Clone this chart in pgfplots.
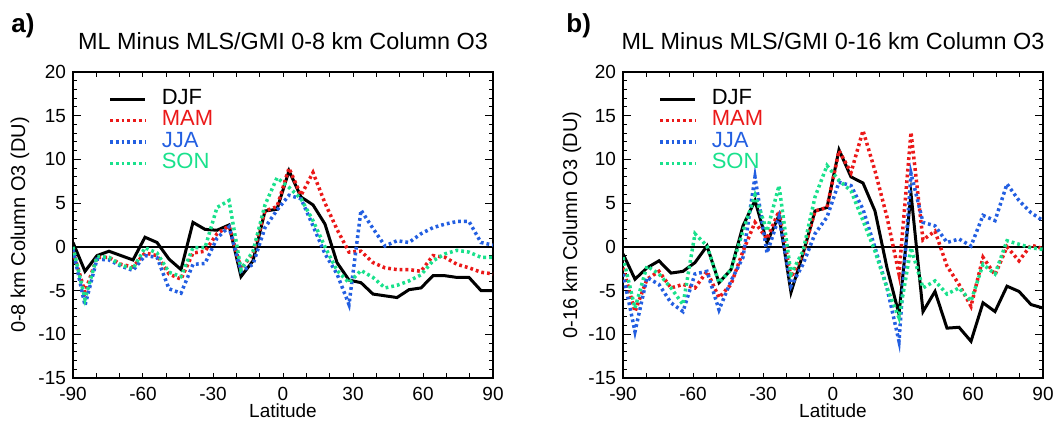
\documentclass[border=0pt]{standalone}
\usepackage{fontspec}
\setmainfont{Liberation Sans}
\usepackage{pgfplots}
\usepackage{pgfplotstable}
\pgfplotsset{compat=1.18}
\definecolor{mamred}{RGB}{235,25,25}
\definecolor{jjablue}{RGB}{35,95,225}
\definecolor{songreen}{RGB}{25,225,140}

% latitude, DJF, MAM, JJA, SON
\pgfplotstableread{
lat djf mam jja son
-90 0.5 -0.5 -0.3 0.0
-84.857 -2.8 -5.2 -6.7 -6.0
-79.714 -1.0 -1.2 -1.4 -1.1
-74.571 -0.5 -1.2 -1.5 -1.2
-69.429 -1.0 -2.0 -2.2 -2.1
-64.286 -1.5 -2.3 -2.7 -2.5
-59.143 1.1 -0.7 -1.0 -0.1
-54 0.5 -1.0 -1.2 -0.7
-48.857 -1.4 -3.1 -4.8 -2.9
-43.714 -2.6 -3.7 -5.3 -3.4
-38.571 2.8 -0.7 -2.0 -0.1
-33.429 2.0 -0.5 -1.9 -0.1
-28.286 1.9 1.5 1.0 4.5
-23.143 2.5 2.4 2.3 5.3
-18 -3.4 -2.5 -2.8 -2.6
-12.857 -1.6 -0.8 -2.0 -0.5
-7.714 4.1 4.1 2.2 4.8
-2.571 4.3 4.6 4.2 7.9
2.571 8.7 9.0 5.9 6.8
7.714 5.7 5.9 5.5 5.5
12.857 4.8 8.5 2.4 3.0
18 2.6 5.0 -0.8 0.0
23.143 -1.8 2.0 -3.1 -2.7
28.286 -3.8 -0.6 -6.6 -4.1
33.429 -4.1 -0.5 4.2 -2.7
38.571 -5.4 -1.8 2.1 -3.5
43.714 -5.6 -2.4 0.1 -4.7
48.857 -5.8 -2.6 0.7 -4.4
54 -4.9 -2.6 0.5 -3.9
59.143 -4.7 -2.8 1.5 -3.2
64.286 -3.3 -1.0 2.2 -1.6
69.429 -3.3 -1.2 2.6 -0.8
74.571 -3.5 -2.0 2.9 -0.4
79.714 -3.5 -2.4 2.9 -0.6
84.857 -5.0 -2.9 0.5 -1.2
90 -5.0 -3.1 0.2 -1.2
}\lowtab

\pgfplotstableread{
lat djf mam jja son
-90 -0.8 -2.4 -3.1 -1.2
-84.857 -3.7 -7.4 -9.7 -7.0
-79.714 -2.4 -3.7 -3.5 -2.2
-74.571 -1.6 -2.8 -4.3 -3.1
-69.429 -3.0 -4.7 -6.4 -4.7
-64.286 -2.8 -4.3 -7.4 -6.6
-59.143 -1.8 -4.7 -3.1 1.5
-54 0.1 -2.8 -2.8 0.1
-48.857 -4.1 -5.8 -7.2 -4.1
-43.714 -2.6 -4.3 -3.9 -2.6
-38.571 2.4 -0.5 -1.2 1.8
-33.429 5.3 2.8 8.0 5.9
-28.286 0.5 0.9 -0.7 1.8
-23.143 3.6 4.1 3.4 7.0
-18 -5.2 -3.5 -4.5 -3.1
-12.857 -0.8 -0.8 -2.0 -0.5
-7.714 4.1 4.1 1.5 5.7
-2.571 4.5 4.5 3.4 9.3
2.571 11.1 11.0 7.4 7.6
7.714 8.0 8.5 7.0 6.4
12.857 7.3 13.3 4.3 3.0
18 4.1 8.7 -0.1 -0.5
23.143 -2.4 3.4 -4.7 -4.7
28.286 -7.7 -3.1 -10.8 -8.1
33.429 6.1 13.1 8.4 -0.1
38.571 -7.4 0.8 2.8 -4.7
43.714 -5.1 1.8 2.4 -3.9
48.857 -9.3 -2.2 0.5 -5.4
54 -9.2 -4.3 0.9 -4.7
59.143 -10.8 -6.8 0.1 -6.2
64.286 -6.4 -1.2 3.6 -2.0
69.429 -7.4 -3.2 3.0 -3.1
74.571 -4.5 0.0 7.2 0.7
79.714 -5.1 -1.6 5.3 0.3
84.857 -6.6 0.2 3.9 -0.1
90 -7.0 -0.2 3.0 -0.3
}\hightab

\pgfplotsset{
  o3/.style={
    scale only axis, width=210pt, height=153pt,
    anchor=south west,
    xmin=-90, xmax=90, ymin=-15, ymax=20,
    xtick={-90,-80,...,90},
    xticklabels={-90,,,-60,,,-30,,,0,,,30,,,60,,,90},
    ytick={-15,-10,...,20},
    yticklabels={-15,-10,-5,0,5,10,15,20},
    minor ytick={-15,-14,...,20},
    tick align=inside,
    major tick length=4pt, minor tick length=2pt,
    xtick style={/pgfplots/major tick length=2.5pt},
    tick style={black, line width=0.5pt},
    axis line style={line width=0.65pt},
    ticklabel style={font=\fontsize{9.5}{10}\selectfont},
    xticklabel style={anchor=base, yshift=-11.5pt},
    legend style={draw=none, fill=none, at={(0.083,0.948)}, anchor=north west,
      font=\fontsize{11}{12}\selectfont, inner sep=0pt,
      nodes={inner sep=0pt, text height=8pt, text depth=2.75pt},
      row sep=0pt, column sep=7.5pt},
    legend cell align=left,
    legend image code/.code={\draw[##1] (0pt,0pt) -- (17.5pt,0pt);},
  },
  djf/.style={black, line width=1.5pt},
  dots/.style={line width=1.75pt, dash pattern=on 1.4pt off 1.5pt},
}

\begin{document}
\begin{tikzpicture}
\useasboundingbox (0,0) rectangle (528.5pt,213.5pt);

\begin{axis}[o3, at={(36.5pt,24.5pt)}]
\addplot[black, line width=0.75pt, forget plot] coordinates {(-90,0) (90,0)};
\addplot[djf] table[x=lat, y=djf] {\lowtab};
\addlegendentry{DJF}
\addplot[dots, mamred] table[x=lat, y=mam] {\lowtab};
\addlegendentry{\textcolor{mamred}{MAM}}
\addplot[dots, jjablue] table[x=lat, y=jja] {\lowtab};
\addlegendentry{\textcolor{jjablue}{JJA}}
\addplot[dots, songreen] table[x=lat, y=son] {\lowtab};
\addlegendentry{\textcolor{songreen}{SON}}
\end{axis}

\begin{axis}[o3, at={(311.5pt,24.5pt)}]
\addplot[black, line width=0.75pt, forget plot] coordinates {(-90,0) (90,0)};
\addplot[djf] table[x=lat, y=djf] {\hightab};
\addlegendentry{DJF}
\addplot[dots, mamred] table[x=lat, y=mam] {\hightab};
\addlegendentry{\textcolor{mamred}{MAM}}
\addplot[dots, jjablue] table[x=lat, y=jja] {\hightab};
\addlegendentry{\textcolor{jjablue}{JJA}}
\addplot[dots, songreen] table[x=lat, y=son] {\hightab};
\addlegendentry{\textcolor{songreen}{SON}}
\end{axis}

% titles, labels and panel letters
\node[anchor=base, font=\fontsize{11.7}{12}\selectfont, inner sep=0pt] at (141.5pt,188.5pt) {ML Minus MLS/GMI 0-8 km Column O3};
\node[anchor=base, font=\fontsize{11.7}{12}\selectfont, inner sep=0pt] at (416.5pt,188.5pt) {ML Minus MLS/GMI 0-16 km Column O3};
\node[anchor=base west, font=\fontsize{13}{14}\selectfont\bfseries, inner sep=0pt] at (5.5pt,197pt) {a)};
\node[anchor=base west, font=\fontsize{13}{14}\selectfont\bfseries, inner sep=0pt] at (283pt,197pt) {b)};
\node[anchor=base, font=\fontsize{9.5}{10}\selectfont, inner sep=0pt] at (141.5pt,4.5pt) {Latitude};
\node[anchor=base, font=\fontsize{9.5}{10}\selectfont, inner sep=0pt] at (416.5pt,4.5pt) {Latitude};
\node[rotate=90, font=\fontsize{10}{11}\selectfont, inner sep=0pt] at (10pt,101pt) {0-8 km Column O3 (DU)};
\node[rotate=90, font=\fontsize{10}{11}\selectfont, inner sep=0pt] at (286pt,101pt) {0-16 km Column O3 (DU)};
\end{tikzpicture}
\end{document}
